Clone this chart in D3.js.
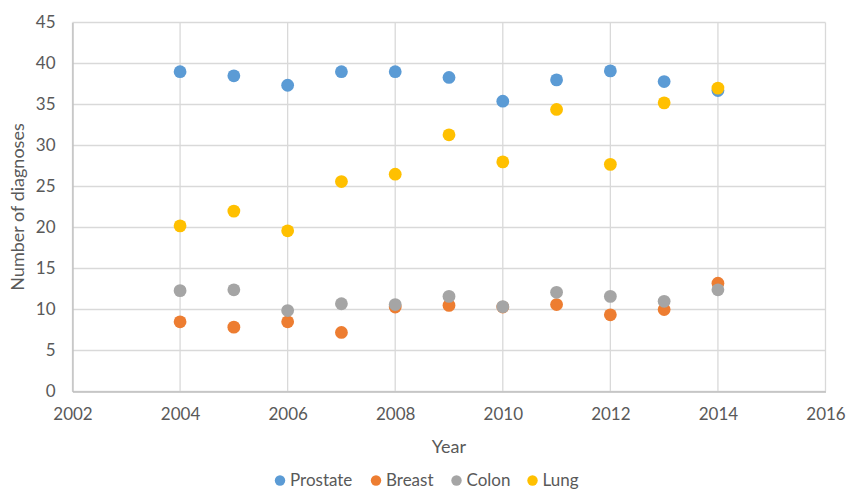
<!DOCTYPE html>
<html><head><meta charset="utf-8">
<script src="https://cdn.jsdelivr.net/npm/d3@7"></script>
<style>body{margin:0;background:#fff}svg{display:block;font-family:Lato,"Noto Sans",sans-serif}</style>
</head><body><svg id="c" width="846" height="490"></svg>
<script>
const years = [2004,2005,2006,2007,2008,2009,2010,2011,2012,2013,2014];
const prostate = [39.0,38.5,37.35,39.0,39.0,38.3,35.4,38.0,39.1,37.8,36.7];
const breast = [8.5,7.85,8.5,7.2,10.3,10.5,10.3,10.6,9.35,10.0,13.2];
const colon = [12.3,12.4,9.87,10.7,10.6,11.6,10.35,12.1,11.6,11.0,12.4];
const lung = [20.2,22.0,19.6,25.6,26.5,31.3,28.0,34.4,27.7,35.2,37.0];
const seriesNames = ["Prostate","Breast","Colon","Lung"];
const seriesColors = ["#5B9BD5","#ED7D31","#A5A5A5","#FFC000"];
const xTicks = [2002,2004,2006,2008,2010,2012,2014,2016];
const yTicks = [0,5,10,15,20,25,30,35,40,45];

const svg = d3.select("#c");
const x = d3.scaleLinear().domain([2002,2016]).range([72.5,825.5]);
const y = d3.scaleLinear().domain([0,45]).range([391.5,22.5]);
const txt = "#595959", grid = "#d9d9d9";

// gridlines
svg.append("g").selectAll("line").data(yTicks).join("line")
  .attr("x1",x(2002)).attr("x2",x(2016)).attr("y1",d=>y(d)).attr("y2",d=>y(d))
  .attr("stroke",grid).attr("stroke-width",1.3);
svg.append("g").selectAll("line").data(xTicks).join("line")
  .attr("y1",y(0)).attr("y2",y(45)).attr("x1",d=>x(d)).attr("x2",d=>x(d))
  .attr("stroke",grid).attr("stroke-width",1.3);

// axes via d3
const ax = svg.append("g").attr("transform",`translate(0,${y(0)})`)
  .call(d3.axisBottom(x).tickValues(xTicks).tickFormat(d3.format("d")).tickSize(0).tickPadding(16));
ax.select(".domain").attr("stroke","#bfbfbf").attr("stroke-width",1.3);
ax.selectAll("text").attr("fill",txt).attr("font-size",17).attr("font-family","Lato");
const ay = svg.append("g").attr("transform",`translate(${x(2002)},0)`)
  .call(d3.axisLeft(y).tickValues(yTicks).tickSize(0).tickPadding(17));
ay.select(".domain").attr("stroke","#bfbfbf").attr("stroke-width",1.3);
ay.selectAll("text").attr("fill",txt).attr("font-size",17).attr("font-family","Lato");

// titles
svg.append("text").attr("x",x(2009)).attr("y",453).attr("text-anchor","middle")
  .attr("fill",txt).attr("font-size",18).text("Year");
svg.append("text").attr("transform",`translate(24,${y(22.5)}) rotate(-90)`).attr("text-anchor","middle")
  .attr("fill",txt).attr("font-size",18).text("Number of diagnoses");

// points
const data = [prostate,breast,colon,lung];
data.forEach((vals,i)=>{
  svg.append("g").selectAll("circle").data(vals).join("circle")
    .attr("cx",(d,j)=>x(years[j])).attr("cy",d=>y(d)).attr("r",6.4)
    .attr("fill",seriesColors[i]);
});

// legend
const legX = [280,376,456.5,532.5];
const lg = svg.append("g");
seriesNames.forEach((n,i)=>{
  lg.append("circle").attr("cx",legX[i]).attr("cy",480.5).attr("r",5.2).attr("fill",seriesColors[i]);
  lg.append("text").attr("x",legX[i]+10).attr("y",486).attr("fill",txt).attr("font-size",17).text(n);
});
</script></body></html>
